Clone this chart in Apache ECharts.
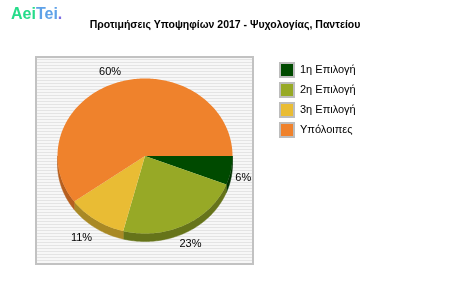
<!DOCTYPE html>
<html><head><meta charset="utf-8">
<script src="https://cdn.jsdelivr.net/npm/echarts@6/dist/echarts.min.js"></script>
<style>html,body{margin:0;padding:0;background:#fff}#c{width:450px;height:300px}</style>
</head><body><div id="c"></div>
<script>
const categories = ['1η Επιλογή', '2η Επιλογή', '3η Επιλογή', 'Υπόλοιπες'];
const values = [6, 23, 11, 60];
const labels = ['6%', '23%', '11%', '60%'];
const colors = ['#004a00', '#97a926', '#e9bc34', '#ef822c'];
const sideColors = ['#003000', '#66741a', '#a98925', '#b65f1f'];

const CX = 145, CY = 156, RX = 87.5, RY = 77.5, DEPTH = 8;
const total = values.reduce((a, b) => a + b, 0);

function arcPts(a, b, dy) {
  const pts = [];
  const n = Math.max(2, Math.ceil(Math.abs(b - a) / (Math.PI / 180)));
  for (let k = 0; k <= n; k++) {
    const t = a + (b - a) * k / n;
    pts.push([CX + RX * Math.cos(t), CY + dy + RY * Math.sin(t)]);
  }
  return pts;
}

function makeRender(idx) {
  return function (params, api) {
    let before = 0;
    for (let j = 0; j < idx; j++) before += values[j];
    const v = api.value(0);
    const a = before / total * Math.PI * 2;
    const b = (before + v) / total * Math.PI * 2;
    const children = [];
    const sa = Math.max(a, 0), sb = Math.min(b, Math.PI);
    if (sb > sa) {
      const top = arcPts(sa, sb, 0);
      const bot = arcPts(sb, sa, DEPTH);
      children.push({type: 'polygon', z2: 1, shape: {points: top.concat(bot)}, style: {fill: sideColors[idx], stroke: sideColors[idx], lineWidth: 0.5}});
    }
    const pts = [[CX, CY]].concat(arcPts(a, b, 0));
    children.push({type: 'polygon', z2: 10, shape: {points: pts}, style: {fill: colors[idx]}});
    const m = (a + b) / 2;
    const s = Math.sin(m), c = Math.cos(m);
    const lx = CX + (c < 0 ? 113 : 100) * c;
    const ly = CY + 88 * s + (s > 0 ? 4 + 6 * s : 0);
    children.push({type: 'text', z2: 20, x: lx, y: ly, style: {text: labels[idx], fill: '#000', font: '11px "Liberation Sans", Arial, sans-serif', align: 'center', verticalAlign: 'middle'}});
    return {type: 'group', children: children};
  };
}

const stripe = document.createElement('canvas');
stripe.width = 4; stripe.height = 3;
(function () {
  const g = stripe.getContext('2d');
  g.fillStyle = '#f7f7f7'; g.fillRect(0, 0, 4, 3);
  g.fillStyle = '#e4e4e4'; g.fillRect(0, 2, 4, 1);
})();

const chart = echarts.init(document.getElementById('c'), null, {renderer: 'canvas'});
chart.setOption({
  animation: false,
  backgroundColor: '#fff',
  title: [
    {text: '{a|Aei}{b|Tei}{c|.}', left: 6, top: 2,
     textStyle: {rich: {
       a: {color: '#26dc8a', fontSize: 16, fontWeight: 'bold', fontFamily: 'Liberation Sans'},
       b: {color: '#5fa2e8', fontSize: 16, fontWeight: 'bold', fontFamily: 'Liberation Sans'},
       c: {color: '#7d6de3', fontSize: 16, fontWeight: 'bold', fontFamily: 'Liberation Sans'}}}},
    {text: 'Προτιμήσεις Υποψηφίων 2017 - Ψυχολογίας, Παντείου', left: 'center', top: 15,
     textStyle: {fontSize: 10.5, fontWeight: 'bold', color: '#000', fontFamily: 'Liberation Sans'}}
  ],
  graphic: [
    {type: 'rect', z: -1, shape: {x: 36, y: 57, width: 217, height: 207},
     style: {fill: {image: stripe, repeat: 'repeat'}, stroke: '#c2c2c2', lineWidth: 2}}
  ],
  legend: {
    orient: 'vertical', left: 274, top: 57, itemWidth: 14, itemHeight: 14, itemGap: 4,
    icon: 'rect', data: categories,
    itemStyle: {borderColor: '#bdbdbd', borderWidth: 2},
    textStyle: {fontSize: 11, color: '#000', fontFamily: 'Liberation Sans', padding: [0, 0, 0, 1]},
    selectedMode: false
  },
  series: categories.map((name, i) => ({
    type: 'custom', name: name, coordinateSystem: 'none',
    itemStyle: {color: colors[i]},
    renderItem: makeRender(i),
    data: [[values[i]]]
  }))
});
</script></body></html>
